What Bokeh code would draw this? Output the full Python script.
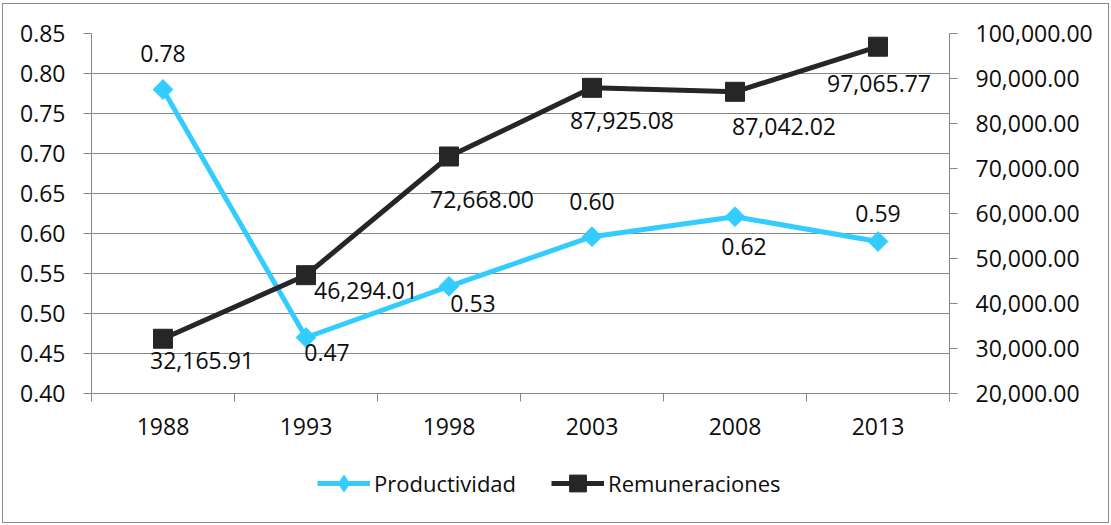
import math
from bokeh.plotting import figure
from bokeh.layouts import column
from bokeh.models import (Range1d, LinearAxis, FixedTicker, NumeralTickFormatter,
                          ColumnDataSource, Legend, LegendItem)
from bokeh.embed import file_html
from bokeh.resources import INLINE
from bokeh.core.properties import value

# ---------------- data ----------------
years = ["1988", "1993", "1998", "2003", "2008", "2013"]
productividad = [0.78, 0.47, 0.534, 0.596, 0.621, 0.59]
remuneraciones = [32165.91, 46294.01, 72668.00, 87925.08, 87042.02, 97065.77]
prod_labels = ["0.78", "0.47", "0.53", "0.60", "0.62", "0.59"]
rem_labels = ["32,165.91", "46,294.01", "72,668.00", "87,925.08", "87,042.02", "97,065.77"]
left_ticks = [0.40, 0.45, 0.50, 0.55, 0.60, 0.65, 0.70, 0.75, 0.80, 0.85]
right_ticks = [20000, 30000, 40000, 50000, 60000, 70000, 80000, 90000, 100000]
series_names = ["Productividad", "Remuneraciones"]

# ---------------- styles ----------------
FONT = "Open Sans"
GRAY = "#868686"
CYAN = "#33CCFF"
DARK = "#262626"
TXT = "#0d0d0d"
FS = "23px"

# label offsets in screen pixels (style only)
prod_dx = [0, 21, 24, 0, 9, 0]
prod_dy = [-36, 15, 17, -35, 30, -28]
rem_dx = [39, 60, 33, 30, 49, 1]
rem_dy = [22, 15, 43, 33, 35, 37]

# category slots: centre of slot i is 2*i+1, boundaries at even numbers
xs = [2 * i + 1 for i in range(len(years))]
bounds = [2 * i for i in range(len(years) + 1)]

W = 1105
H1 = 445
H2 = 73

p = figure(width=W, height=H1,
           x_range=Range1d(0, 2 * len(years)),
           y_range=Range1d(left_ticks[0], left_ticks[-1]),
           output_backend="svg", toolbar_location=None,
           min_border_left=88, min_border_right=159,
           min_border_top=29, min_border_bottom=56)
p.outline_line_color = None
p.background_fill_color = "white"
p.border_fill_color = "white"

p.extra_y_ranges = {"r": Range1d(right_ticks[0], right_ticks[-1])}

# x axis
xa = p.xaxis[0]
xa.ticker = FixedTicker(ticks=xs, minor_ticks=bounds)
xa.major_label_overrides = {x: y for x, y in zip(xs, years)}
xa.major_tick_out = 0
xa.major_tick_in = 0
xa.minor_tick_out = 8
xa.minor_tick_in = 0
xa.minor_tick_line_color = GRAY
xa.axis_line_color = GRAY
xa.major_label_text_font = FONT
xa.major_label_text_font_size = FS
xa.major_label_text_color = TXT
xa.major_label_standoff = 16

# left axis
ya = p.yaxis[0]
ya.ticker = FixedTicker(ticks=left_ticks, minor_ticks=[])
ya.formatter = NumeralTickFormatter(format="0.00")
ya.major_tick_out = 8
ya.major_tick_in = 0
ya.minor_tick_out = 0
ya.major_tick_line_color = GRAY
ya.axis_line_color = GRAY
ya.major_label_text_font = FONT
ya.major_label_text_font_size = FS
ya.major_label_text_color = TXT
ya.major_label_standoff = 18

# right axis
ra = LinearAxis(y_range_name="r", ticker=FixedTicker(ticks=right_ticks, minor_ticks=[]),
                formatter=NumeralTickFormatter(format="0,0.00"))
ra.major_tick_out = 8
ra.major_tick_in = 0
ra.minor_tick_out = 0
ra.major_tick_line_color = GRAY
ra.axis_line_color = GRAY
ra.major_label_text_font = FONT
ra.major_label_text_font_size = FS
ra.major_label_text_color = TXT
ra.major_label_standoff = 18
p.add_layout(ra, "right")

# grid
p.xgrid.visible = False
p.ygrid.ticker = FixedTicker(ticks=left_ticks)
p.ygrid.grid_line_color = GRAY
p.ygrid.grid_line_width = 1

# series (Remuneraciones drawn above Productividad)
p.line(xs, productividad, line_color=CYAN, line_width=5)
p.scatter(xs, productividad, marker="square", angle=math.pi / 4, size=14,
          fill_color=CYAN, line_color=CYAN)
p.line(xs, remuneraciones, y_range_name="r", line_color=DARK, line_width=5)
p.scatter(xs, remuneraciones, y_range_name="r", marker="square", size=19,
          fill_color=DARK, line_color=DARK)

# data labels
src_p = ColumnDataSource(dict(x=xs, y=productividad, t=prod_labels, dx=prod_dx, dy=prod_dy))
p.text(x="x", y="y", text="t", x_offset="dx", y_offset="dy", source=src_p,
       text_font=value(FONT), text_font_size=FS, text_color=TXT,
       text_align="center", text_baseline="middle")
src_r = ColumnDataSource(dict(x=xs, y=remuneraciones, t=rem_labels, dx=rem_dx, dy=rem_dy))
p.text(x="x", y="y", text="t", x_offset="dx", y_offset="dy", source=src_r, y_range_name="r",
       text_font=value(FONT), text_font_size=FS, text_color=TXT,
       text_align="center", text_baseline="middle")

# legend strip: a second, axis-less figure whose (off-view) renderers feed the legend
q = figure(width=W, height=H2, x_range=Range1d(100, 101), y_range=Range1d(-100, -99),
           output_backend="svg", toolbar_location=None,
           x_axis_type=None, y_axis_type=None,
           min_border_left=0, min_border_right=0, min_border_top=0, min_border_bottom=0)
q.outline_line_color = None
q.xgrid.visible = False
q.ygrid.visible = False
q.background_fill_color = "white"
q.border_fill_color = "white"
lp = q.line(xs, productividad, line_color=CYAN, line_width=5)
sp = q.scatter(xs, productividad, marker="diamond",
               fill_color=CYAN, line_color=CYAN)
lr = q.line(xs, remuneraciones, line_color=DARK, line_width=5)
sr = q.scatter(xs, remuneraciones, marker="square",
               fill_color=DARK, line_color=DARK)
legend = Legend(items=[LegendItem(label=series_names[0], renderers=[lp, sp]),
                       LegendItem(label=series_names[1], renderers=[lr, sr])],
                orientation="horizontal", location=(226, 18),
                glyph_width=53, glyph_height=42, label_standoff=4, spacing=35,
                padding=0, margin=0, border_line_color=None,
                background_fill_alpha=0,
                label_text_font=FONT, label_text_font_size="22px", label_text_color=TXT)
q.add_layout(legend, "center")

layout = column(p, q, spacing=0,
                styles={"margin-left": "2px", "margin-top": "3px",
                        "border": "1px solid #8c8c8c", "background": "white"})

open("out.html", "w").write(file_html(layout, INLINE))
